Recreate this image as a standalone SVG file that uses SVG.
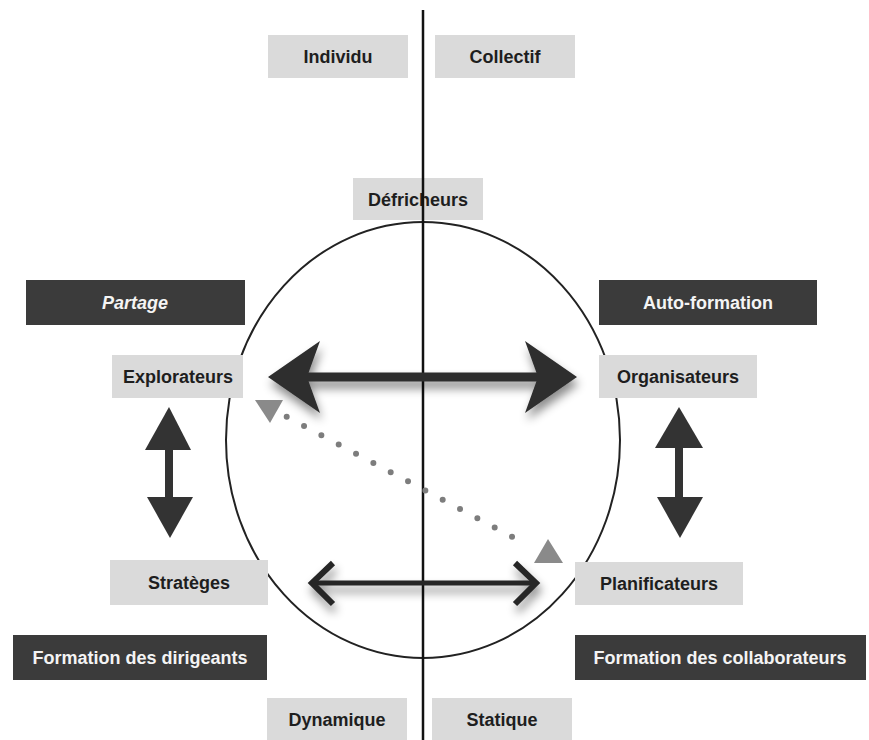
<svg xmlns="http://www.w3.org/2000/svg" width="869" height="740" viewBox="0 0 869 740">
<style>
.lt{fill:#dadada}
.dk{fill:#3b3b3b}
.t{font-family:"Liberation Sans",Arial,sans-serif;font-weight:bold;font-size:18px;text-anchor:middle;fill:#1e1e1e}
.w{fill:#f4f4f4}
</style>
<defs>
<filter id="sh" x="-20%" y="-50%" width="140%" height="200%">
<feDropShadow dx="2" dy="7" stdDeviation="5" flood-color="#000" flood-opacity="0.45"/>
</filter>
</defs>
<rect width="869" height="740" fill="#fff"/>
<g id="ellipse"><ellipse cx="423" cy="440" rx="197" ry="218" fill="none" stroke="#222" stroke-width="2"/></g>
<g id="individu"><rect class="lt" x="268" y="35" width="140" height="43"/><text class="t" x="338" y="63">Individu</text></g>
<g id="collectif"><rect class="lt" x="435" y="35" width="140" height="43"/><text class="t" x="505" y="63">Collectif</text></g>
<g id="defricheurs"><rect class="lt" x="353" y="178" width="130" height="42"/><text class="t" x="418" y="206">Défricheurs</text></g>
<g id="partage"><rect class="dk" x="26" y="280" width="219" height="45"/><text class="t w" x="135" y="309" font-style="italic">Partage</text></g>
<g id="autoformation"><rect class="dk" x="599" y="280" width="218" height="45"/><text class="t w" x="708" y="309">Auto-formation</text></g>
<g id="explorateurs"><rect class="lt" x="112" y="355" width="131" height="43"/><text class="t" x="178" y="383">Explorateurs</text></g>
<g id="organisateurs"><rect class="lt" x="599" y="355" width="158" height="43"/><text class="t" x="678" y="383">Organisateurs</text></g>
<g id="strateges"><rect class="lt" x="110" y="560" width="158" height="45"/><text class="t" x="189" y="589">Stratèges</text></g>
<g id="planificateurs"><rect class="lt" x="575" y="562" width="168" height="43"/><text class="t" x="659" y="590">Planificateurs</text></g>
<g id="dirigeants"><rect class="dk" x="13" y="635" width="254" height="45"/><text class="t w" x="140" y="664">Formation des dirigeants</text></g>
<g id="collaborateurs"><rect class="dk" x="575" y="635" width="291" height="45"/><text class="t w" x="720" y="664">Formation des collaborateurs</text></g>
<g id="dynamique"><rect class="lt" x="267" y="698" width="140" height="42"/><text class="t" x="337" y="726">Dynamique</text></g>
<g id="statique"><rect class="lt" x="432" y="698" width="140" height="42"/><text class="t" x="502" y="726">Statique</text></g>
<g id="connectors">
<line x1="423" y1="10" x2="423" y2="740" stroke="#111" stroke-width="2.5"/>
<g filter="url(#sh)" fill="#2e2e2e">
<rect x="295" y="372.5" width="255" height="9"/>
<polygon points="268,377 320,341 307,377 320,413"/>
<polygon points="577,377 525,341 538,377 525,413"/>
</g>
<g filter="url(#sh)" fill="none" stroke="#262626" stroke-linejoin="miter" stroke-miterlimit="10">
<line x1="312" y1="583" x2="536" y2="583" stroke-width="5"/>
<path d="M333,563 L312,583 L333,604" stroke-width="6"/>
<path d="M515,563 L536,583 L515,604" stroke-width="6"/>
</g>
<g fill="#333">
<polygon points="169,407 145,450 191,450"/>
<rect x="165" y="448" width="8" height="51"/>
<polygon points="147,497 193,497 170,538"/>
<polygon points="679,407 655,448 703,448"/>
<rect x="675" y="446" width="8" height="53"/>
<polygon points="657,497 703,497 680,538"/>
</g>
<line x1="286.7" y1="416.7" x2="529.3" y2="546" stroke="#7d7d7d" stroke-width="6" stroke-linecap="round" stroke-dasharray="0 19.64"/>
<polygon points="255,400 283,400 270,423" fill="#8a8a8a"/>
<polygon points="548,539 563,563 534,563" fill="#8a8a8a"/>
</g>
</svg>
